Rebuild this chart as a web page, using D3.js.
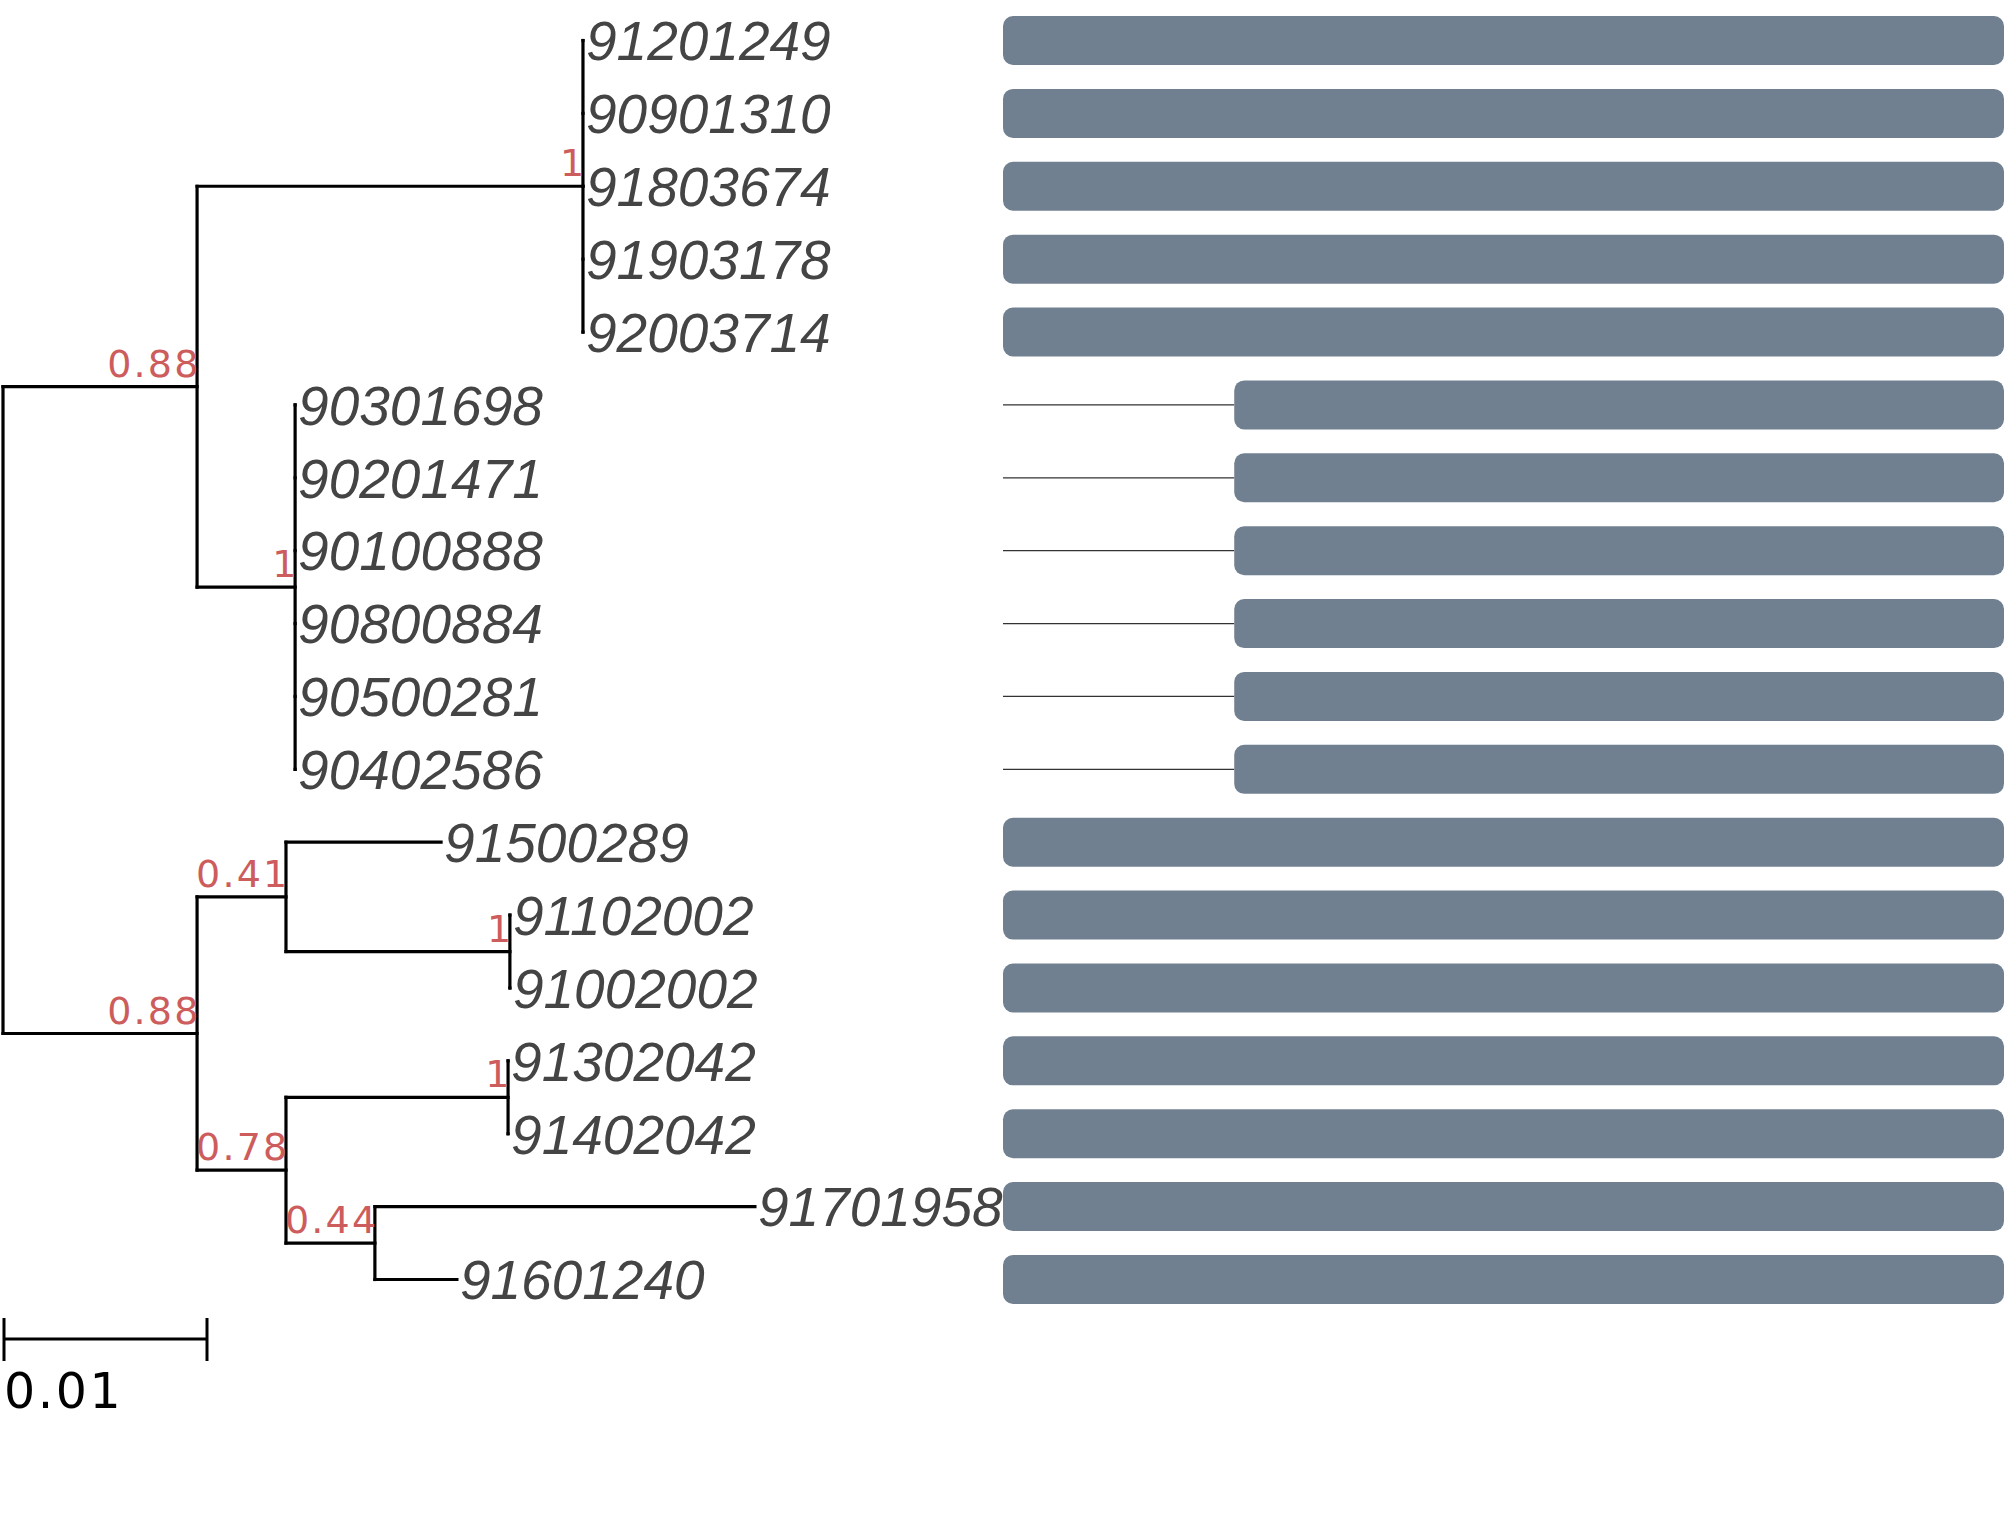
<!DOCTYPE html>
<html>
<head>
<meta charset="utf-8">
<script src="https://cdn.jsdelivr.net/npm/d3@7"></script>
<style>
	body { margin: 0; background: #fff; }
	svg { display: block; }
</style>
</head>
<body>
<div id="treePlot"></div>
<script>
// tips, top to bottom
var tipLabels = ["91201249", "90901310", "91803674", "91903178", "92003714",
	"90301698", "90201471", "90100888", "90800884", "90500281", "90402586",
	"91500289", "91102002", "91002002", "91302042", "91402042", "91701958", "91601240"]
var tipParents = ["n3", "n3", "n3", "n3", "n3",
	"n4", "n4", "n4", "n4", "n4", "n4",
	"n6", "n7", "n7", "n9", "n9", "n10", "n10"]
var tipBranch = [0, 0, 0, 0, 0,
	0, 0, 0, 0, 0, 0,
	0.00764, 0, 0, 0, 0, 0.01872, 0.00404]

// internal nodes
var innerNodes = ["n1", "n2", "n3", "n4", "n5", "n6", "n7", "n8", "n9", "n10"]
var innerParents = ["", "n1", "n2", "n2", "n1", "n5", "n6", "n5", "n8", "n8"]
var innerBranch = [0, 0.00956, 0.01901, 0.00483, 0.00956, 0.00438, 0.01103, 0.00438, 0.01094, 0.00438]
var innerSupport = ["", "0.88", "1", "1", "0.88", "0.41", "1", "0.78", "1", "0.44"]

// bar panel: segment from lineStart, bar from barStart to barEnd
var lineStart = [0, 0, 0, 0, 0, 0, 0, 0, 0, 0, 0, 0, 0, 0, 0, 0, 0, 0]
var barStart = [0, 0, 0, 0, 0, 23.1, 23.1, 23.1, 23.1, 23.1, 23.1, 0, 0, 0, 0, 0, 0, 0]
var barEnd = [100, 100, 100, 100, 100, 100, 100, 100, 100, 100, 100, 100, 100, 100, 100, 100, 100, 100]

var scaleBarLength = 0.01

var width = 2007
var height = 1521

var svg = d3.select("#treePlot")
	.append("svg")
	.attr("width", width)
	.attr("height", height)

// build the table for d3.stratify
var table = []
innerNodes.forEach((id, i) => table.push({id: id, parent: innerParents[i], len: innerBranch[i], support: innerSupport[i], tip: -1}))
tipLabels.forEach((id, i) => table.push({id: id, parent: tipParents[i], len: tipBranch[i], support: "", tip: i}))

var root = d3.stratify()
	.id(d => d.id)
	.parentId(d => d.parent === "" ? null : d.parent)(table)

var xTree = d3.scaleLinear().domain([0, 0.01]).range([3, 206])
var yRow = d3.scaleLinear().domain([0, tipLabels.length - 1]).range([40.5, 1279.5])
var xBar = d3.scaleLinear().domain([0, 100]).range([1003, 2004])

// depth by branch length
root.eachBefore(n => {
	n.dist = n.parent ? n.parent.dist + n.data.len : 0
})
// y: tips by order, internal by mean of children
root.eachAfter(n => {
	if (n.data.tip >= 0) {
		n.yPos = yRow(n.data.tip)
	} else {
		n.yPos = d3.mean(n.children, c => c.yPos)
	}
})

var nodes = root.descendants()
var inner = nodes.filter(n => n.children)
var tips = nodes.filter(n => !n.children)

// horizontal branches
svg.selectAll(".branch-h")
	.data(nodes.filter(n => n.parent))
	.enter()
	.append("line")
	.attr("class", "branch-h")
	.attr("x1", d => xTree(d.parent.dist))
	.attr("x2", d => xTree(d.dist))
	.attr("y1", d => d.yPos)
	.attr("y2", d => d.yPos)
	.attr("stroke", "#000")
	.attr("stroke-width", 3.2)
	.attr("stroke-linecap", "square")

// vertical connectors
svg.selectAll(".branch-v")
	.data(inner)
	.enter()
	.append("line")
	.attr("class", "branch-v")
	.attr("x1", d => xTree(d.dist))
	.attr("x2", d => xTree(d.dist))
	.attr("y1", d => d3.min(d.children, c => c.yPos))
	.attr("y2", d => d3.max(d.children, c => c.yPos))
	.attr("stroke", "#000")
	.attr("stroke-width", 3.2)
	.attr("stroke-linecap", "square")

// support values
svg.selectAll(".support")
	.data(inner.filter(n => n.data.support !== ""))
	.enter()
	.append("text")
	.attr("class", "support")
	.attr("x", d => xTree(d.dist) + 3.5)
	.attr("y", d => d.yPos - 10)
	.attr("text-anchor", "end")
	.style("font-family", "'DejaVu Sans'")
	.style("font-size", "38px")
	.style("letter-spacing", "2.2px")
	.attr("fill", "#CD5C5C")
	.text(d => d.data.support)

// tip labels
svg.selectAll(".tip-label")
	.data(tips)
	.enter()
	.append("text")
	.attr("class", "tip-label")
	.attr("x", d => xTree(d.dist) + 3)
	.attr("y", d => d.yPos)
	.attr("dy", "0.36em")
	.style("font-family", "'Liberation Sans'")
	.style("font-style", "italic")
	.style("font-size", "55px")
	.attr("fill", "#444")
	.text(d => d.id)

// scale bar
var sb = svg.append("g").attr("class", "scale-bar")
var sbY = 1339
sb.append("line")
	.attr("x1", xTree(0) + 1).attr("x2", xTree(scaleBarLength) + 1)
	.attr("y1", sbY).attr("y2", sbY)
	.attr("stroke", "#000").attr("stroke-width", 3)
sb.selectAll(".sb-tick")
	.data([0, scaleBarLength])
	.enter()
	.append("line")
	.attr("class", "sb-tick")
	.attr("x1", d => xTree(d) + 1).attr("x2", d => xTree(d) + 1)
	.attr("y1", sbY - 21).attr("y2", sbY + 22)
	.attr("stroke", "#000").attr("stroke-width", 3)
sb.append("text")
	.attr("x", xTree(0) + 1)
	.attr("y", 1408)
	.style("font-family", "'DejaVu Sans'")
	.style("font-size", "49px")
	.style("letter-spacing", "2.5px")
	.attr("fill", "#000")
	.text(scaleBarLength)

// bar panel
var rows = tipLabels.map((t, i) => ({label: t, i: i, lineStart: lineStart[i], start: barStart[i], end: barEnd[i]}))

svg.selectAll(".bar-line")
	.data(rows.filter(d => d.lineStart < d.start))
	.enter()
	.append("line")
	.attr("class", "bar-line")
	.attr("x1", d => xBar(d.lineStart))
	.attr("x2", d => xBar(d.start))
	.attr("y1", d => yRow(d.i))
	.attr("y2", d => yRow(d.i))
	.attr("stroke", "#333")
	.attr("stroke-width", 1.3)

svg.selectAll(".bar")
	.data(rows)
	.enter()
	.append("rect")
	.attr("class", "bar")
	.attr("x", d => xBar(d.start))
	.attr("y", d => yRow(d.i) - 24.5)
	.attr("width", d => xBar(d.end) - xBar(d.start))
	.attr("height", 49)
	.attr("rx", 10)
	.attr("ry", 10)
	.attr("fill", "#708090")
</script>
</body>
</html>
